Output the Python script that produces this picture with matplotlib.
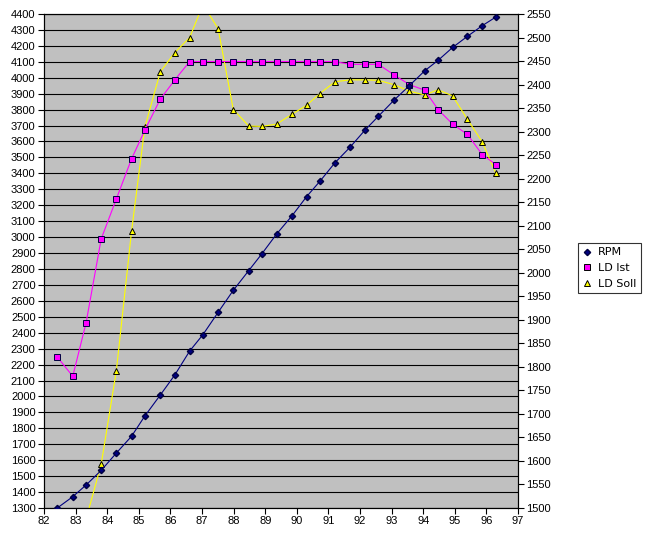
import numpy as np
import matplotlib.pyplot as plt
from matplotlib.lines import Line2D

x = [82.42, 82.91, 83.33, 83.81, 84.29, 84.77, 85.19, 85.68, 86.14, 86.61,
     87.03, 87.51, 87.99, 88.48, 88.89, 89.36, 89.85, 90.31, 90.73, 91.21,
     91.68, 92.16, 92.58, 93.07, 93.56, 94.05, 94.47, 94.93, 95.40, 95.87, 96.30]

rpm = [1300, 1371, 1444, 1536, 1645, 1750, 1877, 2009, 2135, 2285,
       2388, 2528, 2666, 2790, 2894, 3019, 3134, 3254, 3350, 3467,
       3563, 3672, 3758, 3858, 3950, 4044, 4109, 4190, 4260, 4327, 4381]

ld_ist = [1821, 1780, 1893, 2072, 2157, 2242, 2303, 2369, 2410, 2449,
          2449, 2449, 2449, 2449, 2449, 2449, 2449, 2449, 2449, 2449,
          2443, 2443, 2443, 2421, 2400, 2388, 2347, 2316, 2294, 2251, 2230]

ld_soll = [np.nan, np.nan, 1476, 1593, 1792, 2088, 2309, 2427, 2468, 2500,
           2570, 2519, 2347, 2312, 2311, 2316, 2337, 2356, 2381, 2406,
           2410, 2410, 2409, 2400, 2386, 2378, 2389, 2376, 2326, 2278, 2211]

plt.rcParams['font.family'] = 'Liberation Sans'
plt.rcParams['font.size'] = 8

fig = plt.figure(figsize=(6.54, 5.37), dpi=100)
ax = fig.add_axes([44/654, 1-508/537, 474/654, 494/537])
ax.set_facecolor('#c0c0c0')
ax.set_xlim(82, 97)
ax.set_ylim(1300, 4400)
ax.set_xticks(np.arange(82, 98, 1))
ax.set_yticks(np.arange(1300, 4401, 100))
ax.grid(True, axis='y', color='black', linewidth=0.8)
ax.set_axisbelow(True)
ax.tick_params(direction='out', length=4, width=0.8, labelsize=8, pad=2)
for s in ax.spines.values():
    s.set_color('black')
    s.set_linewidth(0.8)

# LD on the right axis
ax2 = ax.twinx()
ax2.set_ylim(1500, 2550)
ax2.set_yticks(np.arange(1500, 2551, 50))
ax2.tick_params(direction='out', length=4, width=0.8, labelsize=8, pad=2)
for s in ax2.spines.values():
    s.set_linewidth(0.8)
ax2.plot(x, ld_soll, color='#ffff00', lw=0.8, marker='^', ms=5,
         mfc='#ffff00', mec='black', mew=0.7)
ax2.plot(x, ld_ist, color='#ff00ff', lw=0.8, marker='s', ms=5,
         mfc='#ff00ff', mec='#000040', mew=0.7)

# RPM drawn on top, same scale as left axis
ax3 = ax.twinx()
ax3.set_ylim(ax.get_ylim())
ax3.set_yticks([])
ax3.axis('off')
ax3.plot(x, rpm, color='#000080', lw=0.8, marker='D', ms=3.2,
         mfc='#000080', mec='#000040')

handles = [
    Line2D([], [], ls='none', marker='D', ms=3.2, mfc='#000080', mec='#000040'),
    Line2D([], [], ls='none', marker='s', ms=5, mfc='#ff00ff', mec='black', mew=0.7),
    Line2D([], [], ls='none', marker='^', ms=5, mfc='#ffff00', mec='black', mew=0.7),
]
leg = fig.legend(handles, ['RPM', 'LD Ist', 'LD Soll'],
                 loc='upper left', bbox_to_anchor=(578/654, 1-243/537),
                 frameon=True, fancybox=False, edgecolor='black',
                 prop={'family': 'DejaVu Sans', 'size': 8},
                 handlelength=0.8, handletextpad=0.6, borderpad=0.4,
                 labelspacing=0.5, borderaxespad=0)
leg.get_frame().set_linewidth(0.8)

fig.savefig('out.png', dpi=100)
